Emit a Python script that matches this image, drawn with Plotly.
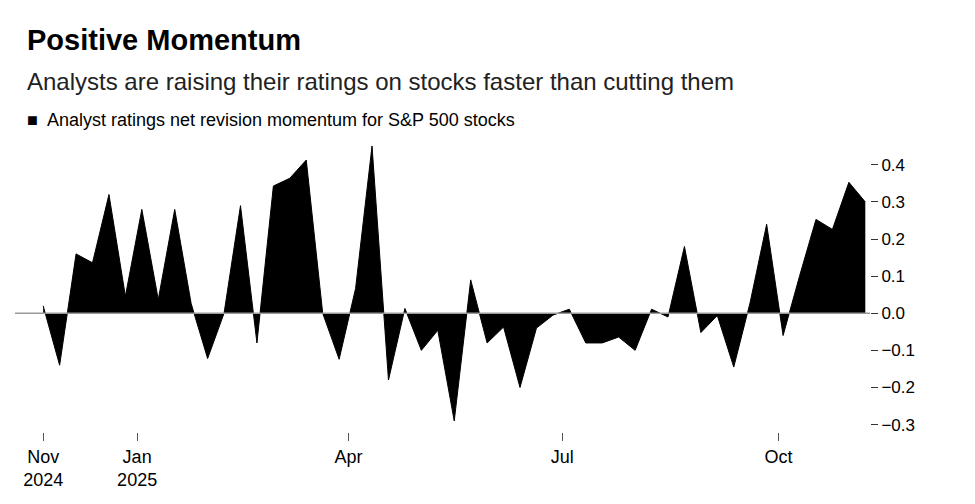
import pandas as pd
import plotly.graph_objects as go

# Weekly readings, starting Friday 2024-11-22
dates = pd.date_range("2024-11-22", periods=51, freq="7D")
momentum = [
    0.02, -0.14, 0.16, 0.136, 0.32, 0.046, 0.28, 0.037, 0.28, 0.026,
    -0.122, 0.0, 0.29, -0.08, 0.343, 0.364, 0.413, 0.0, -0.124, 0.067,
    0.451, -0.18, 0.013, -0.10, -0.046, -0.29, 0.09,
    -0.08, -0.037, -0.20, -0.04, -0.005, 0.011, -0.08, -0.08, -0.064,
    -0.10, 0.011, -0.01, 0.18, -0.052, -0.006, -0.145, 0.03, 0.24, -0.06,
    0.10, 0.253, 0.226, 0.353, 0.30,
]
tick_dates = ["2024-11-22", "2025-01-01", "2025-04-01", "2025-07-01", "2025-10-01"]
tick_labels = ["Nov<br>2024", "Jan<br>2025", "Apr", "Jul", "Oct"]
y_ticks = [0.4, 0.3, 0.2, 0.1, 0.0, -0.1, -0.2, -0.3]

font = "Liberation Sans, Arial, sans-serif"

fig = go.Figure()
fig.add_trace(go.Scatter(
    x=dates, y=momentum, mode="lines", fill="tozeroy",
    line=dict(color="black", width=1), fillcolor="black", showlegend=False,
))
fig.add_hline(y=0, line=dict(color="#999999", width=1.5))

fig.update_layout(
    width=975, height=504,
    margin=dict(l=7, r=113, t=132, b=80),
    paper_bgcolor="white", plot_bgcolor="white",
    font=dict(family=font, color="black", size=17),
    xaxis=dict(
        range=["2024-11-10", "2025-11-09"], showgrid=False, zeroline=False,
        tickvals=tick_dates, ticktext=tick_labels, ticks="outside",
        ticklen=8, tickcolor="#555555", tickfont=dict(size=18),
    ),
    yaxis=dict(
        range=[-0.32, 0.467], side="right", showgrid=False, zeroline=False,
        tickvals=y_ticks, tickformat=".1f", ticks="outside", ticklen=7,
        tickcolor="#333333", tickfont=dict(size=17),
    ),
)

fig.add_annotation(text="<b>Positive Momentum</b>", xref="paper", yref="paper",
                   x=0.012, y=1.0, yshift=100, xanchor="left", yanchor="middle",
                   showarrow=False, font=dict(size=29, family=font))
fig.add_annotation(text="Analysts are raising their ratings on stocks faster than cutting them",
                   xref="paper", yref="paper", x=0.012, y=1.0, yshift=59,
                   xanchor="left", yanchor="middle", showarrow=False,
                   font=dict(size=24, family=font, color="#222222"))
fig.add_annotation(text="\u25A0  Analyst ratings net revision momentum for S&P 500 stocks",
                   xref="paper", yref="paper", x=0.012, y=1.0, yshift=20,
                   xanchor="left", yanchor="middle", showarrow=False,
                   font=dict(size=18, family=font))

fig.write_html("out.html")
